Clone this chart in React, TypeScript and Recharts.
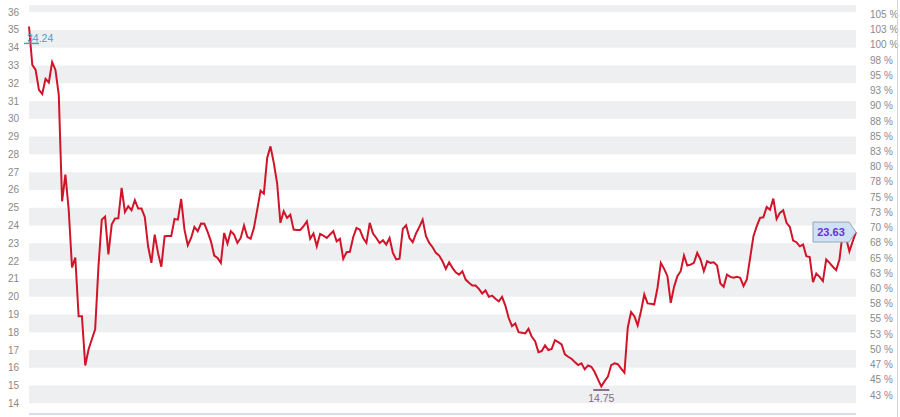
import React from "react";
import { LineChart, Line, XAxis, YAxis, ReferenceArea, ReferenceDot } from "recharts";

// Daily closing values, one per session (left axis units)
const closes: number[] = [
  35.19, 33.03, 32.75, 31.63, 31.4, 32.25, 32.04, 33.19, 32.75, 31.35,
  25.36, 26.86, 24.9, 21.64, 22.2, 18.9, 18.9, 16.13, 17.03, 17.6,
  18.16, 21.71, 24.33, 24.5, 22.37, 24.05, 24.39, 24.4, 26.11, 24.76,
  25.08, 24.86, 25.42, 24.95, 24.95, 24.48, 22.83, 21.9, 23.49, 22.46,
  21.68, 23.4, 23.41, 23.41, 24.37, 24.33, 25.49, 23.77, 22.89, 23.3,
  23.92, 23.68, 24.11, 24.1, 23.64, 23.11, 22.31, 22.18, 21.9, 23.58,
  22.98, 23.68, 23.49,
  23.02, 23.3, 24.0, 23.36, 23.25, 23.87, 24.89, 25.96, 25.79, 27.8,
  28.45, 27.52, 26.39, 24.15, 24.8, 24.43, 24.61, 23.77, 23.75, 23.75,
  23.96, 24.24, 23.25, 23.55, 22.83, 23.53, 23.43, 23.3, 23.49, 23.68,
  23.11, 23.25, 22.13, 22.5, 22.52, 23.34, 23.87, 23.77, 23.3, 23.02,
  24.15, 23.55, 23.3, 23.02, 23.17, 22.93, 23.3, 22.46, 22.09, 22.13,
  23.81, 24.01, 23.3, 23.06, 23.55, 23.92, 24.33, 23.4, 23.02, 22.78,
  22.46, 22.31,
  21.99, 21.56, 21.93, 21.62, 21.37, 21.24, 21.43, 20.96, 20.78, 20.63,
  20.63, 20.44, 20.18, 20.35, 19.99, 20.06, 19.88, 19.74, 19.99, 19.5,
  18.81, 18.34, 18.49, 18.0, 17.97, 17.93, 18.19, 17.74, 17.5, 16.88,
  16.94, 17.26, 17.0, 17.06, 17.55, 17.44, 17.31, 16.75, 16.62, 16.51,
  16.32, 16.15, 16.25, 15.91, 16.13, 16.06, 15.76, 15.35, 14.95, 15.25,
  15.5, 16.15, 16.25, 16.2, 15.95, 15.72, 18.25, 19.13, 18.9, 18.38,
  19.18, 20.12, 19.62, 19.6, 19.56, 20.5, 21.9, 21.56, 21.15, 19.65,
  20.55, 21.15, 21.43, 22.31, 21.75, 21.8, 21.9, 22.46, 22.09, 21.43,
  21.99, 21.9, 21.93, 21.75, 20.74, 20.55, 21.24, 21.11, 21.06, 21.11,
  21.06, 20.59, 20.96, 22.18, 23.4, 23.96, 24.43, 24.46, 25.04, 24.89,
  25.51, 24.37, 24.71, 24.86, 24.15, 23.92, 23.15, 23.06, 22.83, 22.93,
  22.27, 22.23, 20.81, 21.3, 21.11, 20.87, 22.09, 21.9, 21.68, 21.49,
  22.09, 23.62, 23.3, 22.55, 23.11, 23.63,
];

const startValue = 34.24; // reference value (100 %)
const minValue = 14.75;
const minIndex = 173;
const lastValue = 23.63;

const leftDomain: [number, number] = [13.4, 36.4];
const leftTicks = [14, 15, 16, 17, 18, 19, 20, 21, 22, 23, 24, 25, 26, 27, 28, 29, 30, 31, 32, 33, 34, 35, 36];
const bandStarts = [14, 16, 18, 20, 22, 24, 26, 28, 30, 32, 34, 36];

const pctTicks = [105, 102.5, 100, 97.5, 95, 92.5, 90, 87.5, 85, 82.5, 80, 77.5, 75, 72.5, 70, 67.5, 65, 62.5, 60, 57.5, 55, 52.5, 50, 47.5, 45, 42.5];
const pctLabels = ["105 %", "103 %", "100 %", "98 %", "95 %", "93 %", "90 %", "88 %", "85 %", "83 %", "80 %", "78 %", "75 %", "73 %", "70 %", "68 %", "65 %", "63 %", "60 %", "58 %", "55 %", "53 %", "50 %", "47 %", "45 %", "43 %"];

const data = closes.map((v, i) => ({ i, v }));
const lastIndex = closes.length - 1;
const pctDomain: [number, number] = [
  (leftDomain[0] / startValue) * 100,
  (leftDomain[1] / startValue) * 100,
];

const FONT = "'Liberation Sans', Arial, sans-serif";
const LINE_COLOR = "#d0142a";

const StartMarker = (props: any) => {
  const { cx, cy } = props;
  return (
    <g>
      <line x1={cx - 5} x2={cx + 10} y1={cy} y2={cy} stroke="#4b9bc9" strokeWidth={1.5} />
      <text x={cx - 2} y={cy - 1} fontSize={10.5} fill="#4b9bc9" fontFamily={FONT}>
        {startValue.toFixed(2)}
      </text>
    </g>
  );
};

const MinMarker = (props: any) => {
  const { cx, cy } = props;
  return (
    <g>
      <line x1={cx - 8} x2={cx + 8} y1={cy} y2={cy} stroke="#8d6f8c" strokeWidth={2} />
      <text x={cx} y={cy + 12.5} fontSize={10.5} fill="#86688a" textAnchor="middle" fontFamily={FONT}>
        {minValue.toFixed(2)}
      </text>
    </g>
  );
};

const LastCallout = (props: any) => {
  const { cx, cy } = props;
  const d = `M ${cx - 43} ${cy - 10} L ${cx - 7} ${cy - 10} L ${cx} ${cy} L ${cx - 7} ${cy + 10} L ${cx - 43} ${cy + 10} Z`;
  return (
    <g>
      <path d={d} fill="#cfe2f5" stroke="#93a4b6" strokeWidth={1} />
      <text x={cx - 25} y={cy + 4} fontSize={11} fontWeight="bold" fill="#6a2fd2" textAnchor="middle" fontFamily={FONT}>
        {lastValue.toFixed(2)}
      </text>
    </g>
  );
};

export default function App() {
  return (
    <div style={{ position: "absolute", left: 0, top: 0, width: 900, height: 417, background: "#fff", fontFamily: FONT }}>
      <LineChart width={900} height={417} data={data} margin={{ top: 5, right: 0, bottom: 0, left: 0 }}>
        <XAxis
          dataKey="i"
          type="number"
          domain={[0, lastIndex]}
          tick={false}
          tickLine={false}
          height={3}
          axisLine={{ stroke: "#c9d3df", strokeWidth: 1.5 }}
        />
        <YAxis
          yAxisId="left"
          orientation="left"
          width={29}
          domain={leftDomain}
          ticks={leftTicks}
          allowDataOverflow
          interval={0}
          axisLine={false}
          tickLine={false}
          tickSize={0}
          tickMargin={10}
          tick={{ fill: "#8a8a8a", fontSize: 10, fontFamily: FONT }}
        />
        <YAxis
          yAxisId="pct"
          orientation="right"
          width={44}
          type="number"
          domain={pctDomain}
          ticks={pctTicks}
          allowDataOverflow
          interval={0}
          axisLine={false}
          tickLine={false}
          tickSize={0}
          tickMargin={14}
          tick={{ fill: "#8a8a8a", fontSize: 10, fontFamily: FONT, dy: 1.5 }}
          tickFormatter={(v: number) => pctLabels[pctTicks.indexOf(v)] ?? ""}
        />
        {bandStarts.map((b) => (
          <ReferenceArea
            key={b}
            yAxisId="left"
            y1={b}
            y2={Math.min(b + 1, leftDomain[1])}
            fill="#eeeff1"
            fillOpacity={1}
            stroke="none"
            ifOverflow="extendDomain"
          />
        ))}
        <ReferenceDot yAxisId="left" x={lastIndex} y={lastValue} shape={LastCallout} />
        <Line
          yAxisId="left"
          dataKey="v"
          stroke={LINE_COLOR}
          strokeWidth={2}
          dot={false}
          activeDot={false}
          isAnimationActive={false}
        />
        <ReferenceDot yAxisId="left" x={0} y={startValue} shape={StartMarker} />
        <ReferenceDot yAxisId="left" x={minIndex} y={minValue} shape={MinMarker} />
      </LineChart>
      <div style={{ position: "absolute", left: 897, top: 0, width: 1, height: 417, background: "#d6d6d6" }} />
    </div>
  );
}
